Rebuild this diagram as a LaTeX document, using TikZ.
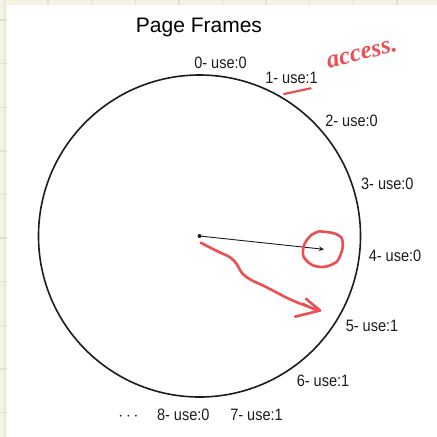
\documentclass[tikz,border=0pt]{standalone}
\usepackage{fontspec}
\usetikzlibrary{arrows.meta}
\newfontfamily\titlefont{Liberation Sans}
\newfontfamily\framefont{Liberation Sans}[FakeStretch=0.88]
\newfontfamily\handfont{Liberation Serif}
\definecolor{paper}{RGB}{246,243,229}
\definecolor{gridline}{RGB}{226,224,208}
\definecolor{ink}{RGB}{28,28,28}
\definecolor{scribble}{RGB}{236,78,82}
\tikzset{
    frame label/.style = {anchor=base, inner sep=0pt, font=\framefont\fontsize{16.5}{18}\selectfont, text=ink},
    pen/.style = {draw=scribble, line width=2.6pt, line cap=round, line join=round},
}

\begin{document}
\begin{tikzpicture}[x=1pt, y=-1pt]
                \useasboundingbox (0,0) rectangle (437,437);
                \fill[paper] (0,0) rectangle (437,437);
                \foreach \gx in {4.5,48.1,...,440} \draw[gridline, line width=1.4pt] (\gx,0) -- (\gx,437);
                \foreach \gy in {20,63.6,...,440} \draw[gridline, line width=1.4pt] (0,\gy) -- (437,\gy);
                \fill[white] (7.3,5) rectangle (437,437);

                \node (title) at (199,32.5) [anchor=base, inner sep=0pt, font=\titlefont\fontsize{21}{24}\selectfont] {Page Frames};
                \node (ring) at (199.5,236) [circle, draw=ink, line width=1.6pt, minimum size=322pt, inner sep=0pt] {};
                \coordinate (hub) at (ring.center);
                \coordinate (tip) at (324,249.3);

                \node[frame label] (f0) at (220.5,68.3) {0- use:0};
                \node[frame label] (f1) at (291.5,83.3) {1- use:1};
                \node[frame label] (f2) at (351.5,126.7) {2- use:0};
                \node[frame label] (f3) at (387.3,189.3) {3- use:0};
                \node[frame label] (f4) at (395,261.7) {4- use:0};
                \node[frame label] (f5) at (372,331.7) {5- use:1};
                \node[frame label] (f6) at (323,386) {6- use:1};
                \node[frame label] (f7) at (256.5,420) {7- use:1};
                \node[frame label] (f8) at (183.3,420) {8- use:0};
                \node[frame label] (more) at (128.5,420) {$\cdots$};

                \fill[ink] (hub) circle (2pt);
                \draw[ink, line width=0.9pt, -{Stealth[length=5pt, width=4.5pt]}] (hub) -- (tip);

                \node (note) at (362,54) [rotate=14, inner sep=0pt, text=scribble, font=\handfont\bfseries\itshape\fontsize{25}{27}\selectfont] {access.};
                \draw[pen, line width=2.2pt] (284,94) -- (310.7,88.3);
                \draw[pen] plot[smooth cycle, tension=0.8] coordinates {(323.3,231.7) (338,235) (342.7,243) (340,256) (333,264) (318,266.7) (306,260) (303,250) (308,238.5) (316,232.5)};
                \draw[pen] plot[smooth, tension=0.6] coordinates {(200.7,242.7) (218.3,251.7) (230,257.3) (236.7,264) (241.7,272.7) (250,279.3) (266.7,287.3) (290,299.3) (310,307.3) (320,310.5)};
                \draw[pen] (306,298.7) -- (320,310.5) -- (295,316.7);
                \draw[pen, line width=2pt] (303,303.5) -- (314,309.5);
            \end{tikzpicture}
\end{document}
